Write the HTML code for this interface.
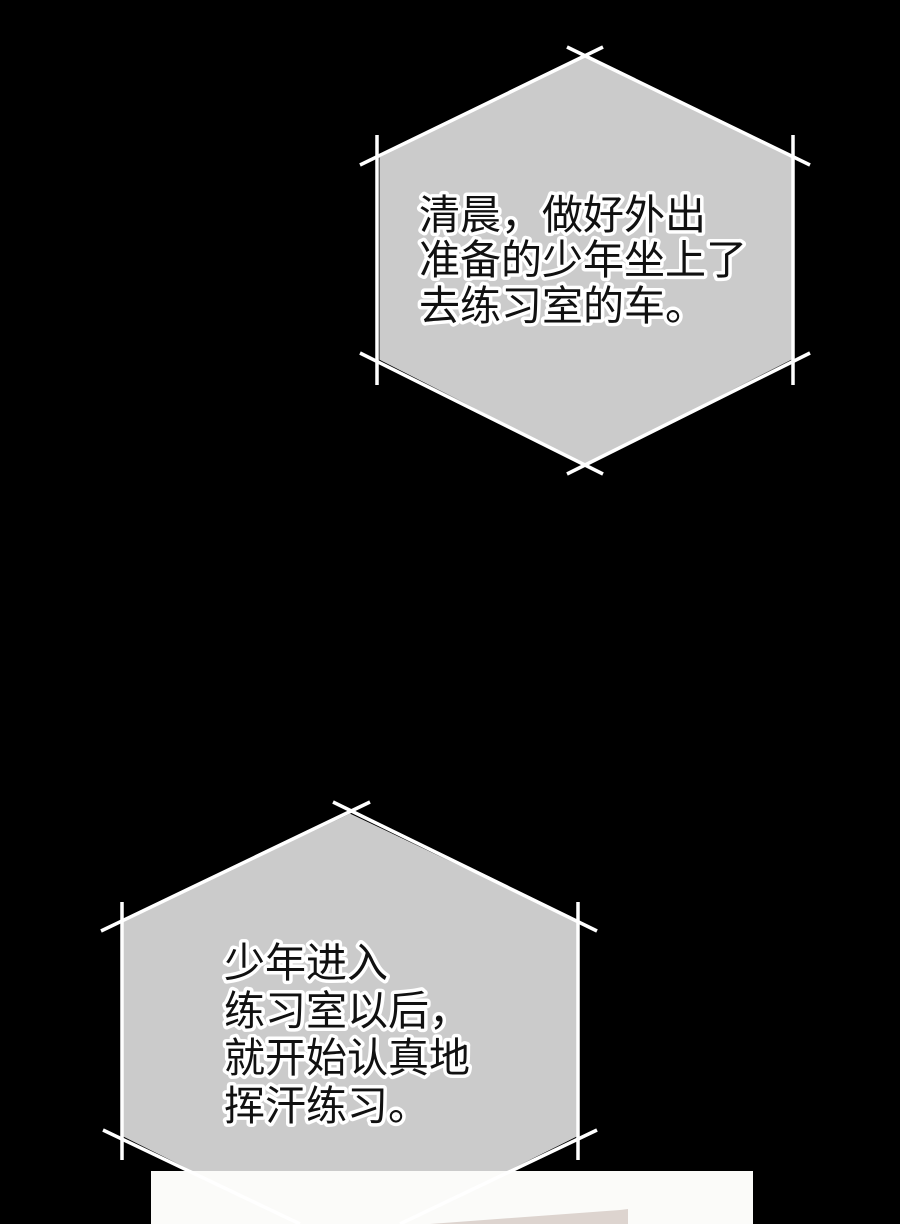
<!DOCTYPE html>
<html><head><meta charset="utf-8"><style>
html,body{margin:0;padding:0;background:#000;}
svg{display:block}
text{font-family:"Liberation Sans","Noto Sans CJK SC",sans-serif;fill:#111;stroke:#fff;stroke-width:7px;paint-order:stroke;stroke-linejoin:round}
</style></head><body>
<svg width="900" height="1224" viewBox="0 0 900 1224" xmlns="http://www.w3.org/2000/svg">
<rect width="900" height="1224" fill="#000"/>
<!-- hexagon 1 -->
<polygon points="585,56 379,157 379,360 585,465 792,360 792,157" fill="#cbcbcb" stroke="#000" stroke-width="1"/>
<g stroke="#fff" stroke-width="3.5" fill="none" stroke-linecap="butt">
<line x1="360" y1="165" x2="603" y2="47"/>
<line x1="567" y1="47" x2="810" y2="165"/>
<line x1="377" y1="135" x2="377" y2="385"/>
<line x1="793" y1="135" x2="793" y2="385"/>
<line x1="360" y1="353" x2="603" y2="474"/>
<line x1="567" y1="474" x2="810" y2="353"/>
</g>
<text font-size="41" x="419" y="229">清晨，做好外出</text>
<text font-size="41" x="419" y="274">准备的少年坐上了</text>
<text font-size="41" x="419" y="320">去练习室的车。</text>
<!-- hexagon 2 -->
<polygon points="350,813 123,921 123,1137 350,1250 577,1137 577,921" fill="#cbcbcb" stroke="#000" stroke-width="1"/>
<rect x="151" y="1171" width="602" height="60" fill="#fbfbf9"/>
<polygon points="430,1224 620,1210 628,1209 628,1224" fill="#ddd4cf"/>
<g stroke="#fff" stroke-width="3.5" fill="none">
<line x1="101" y1="931" x2="370" y2="802"/>
<line x1="333" y1="802" x2="597" y2="931"/>
<line x1="122" y1="902" x2="122" y2="1160"/>
<line x1="578" y1="902" x2="578" y2="1160"/>
<line x1="103" y1="1130" x2="300" y2="1224"/>
<line x1="597" y1="1130" x2="400" y2="1224"/>
</g>
<text font-size="41" x="224" y="977">少年进入</text>
<text font-size="41" x="224" y="1025">练习室以后，</text>
<text font-size="41" x="224" y="1072">就开始认真地</text>
<text font-size="41" x="224" y="1120">挥汗练习。</text>
</svg>
</body></html>
